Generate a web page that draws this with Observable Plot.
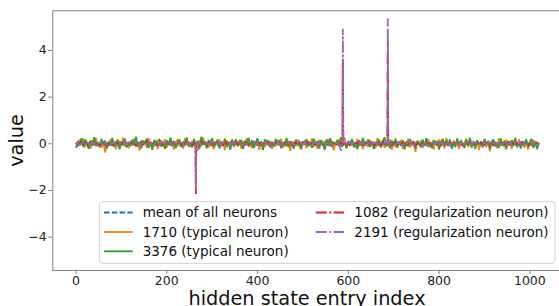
<!DOCTYPE html>
<html>
<head>
<meta charset="utf-8">
<script src="https://cdn.jsdelivr.net/npm/d3@7"></script>
<script src="https://cdn.jsdelivr.net/npm/@observablehq/plot@0.6"></script>
<style>
  html, body { margin: 0; padding: 0; background: #fff; overflow: hidden; }
  #chart svg { overflow: hidden; }
</style>
</head>
<body>
<div id="chart"></div>
<script>
// ---- data ----
const seriesNames = ["mean of all neurons", "1710 (typical neuron)", "3376 (typical neuron)", "1082 (regularization neuron)", "2191 (regularization neuron)"];
const xTicks = [0, 200, 400, 600, 800, 1000];
const yTicks = [-4, -2, 0, 2, 4];
const meanStep = 16;
const neuronStep = 4;

const meanVals = [0.01,-0.01,0.02,0.00,-0.02,0.01,-0.01,0.02,0.00,-0.01,0.01,-0.02,0.02,0.00,-0.01,0.01,
-0.02,0.01,0.00,0.02,-0.01,0.01,-0.02,0.00,0.02,-0.01,0.01,0.00,-0.02,0.01,-0.01,0.02,
0.00,-0.01,0.02,-0.02,0.01,0.00,-0.01,0.01,0.02,-0.02,0.00,0.01,-0.01,0.02,-0.02,0.01,
0.00,-0.01,0.01,-0.02,0.02,0.00,-0.01,0.01,-0.02,0.01,0.00,0.02,-0.01,0.01,-0.01,0.00];

const n1710 = [0.05,-0.12,0.18,-0.03,0.22,-0.15,0.08,0.01,-0.21,0.14,-0.06,0.25,-0.09,0.03,-0.17,0.11,
-0.38,0.06,-0.11,0.19,-0.02,0.09,-0.24,0.16,0.04,-0.08,0.27,-0.13,0.02,-0.19,0.12,-0.05,
0.21,-0.14,0.07,-0.29,0.15,-0.01,0.10,-0.18,0.24,-0.07,0.03,-0.12,0.17,-0.22,0.06,0.13,
-0.09,0.20,-0.16,0.04,-0.06,0.11,-0.25,0.08,0.18,-0.10,0.01,-0.20,0.23,-0.04,0.09,-0.14,
0.12,-0.08,0.05,-0.31,0.16,-0.11,0.26,-0.02,0.07,-0.17,0.14,-0.06,-0.23,0.10,-0.01,0.19,
-0.12,0.08,-0.27,0.15,0.02,-0.09,0.21,-0.15,0.06,-0.04,0.17,-0.20,0.11,-0.07,0.24,-0.13,
0.03,-0.18,0.13,-0.05,0.20,-0.26,0.09,0.00,-0.14,0.18,-0.08,0.12,-0.21,0.05,-0.10,0.16,
-0.03,0.22,-0.17,0.07,-0.12,0.14,-0.30,0.10,0.04,-0.09,0.19,-0.15,0.08,-0.02,0.15,-0.19,
0.11,-0.06,0.23,-0.13,0.02,-0.22,0.17,-0.04,0.09,-0.16,0.06,0.20,-0.11,0.13,-0.28,0.04,
-0.07,0.18,-0.12,0.10,0.26,-0.19,0.05,-0.08,0.14,-0.03,-0.16,0.21,-0.10,0.07,-0.23,0.12,
0.01,-0.14,0.16,-0.06,0.09,-0.20,0.24,-0.11,0.03,0.13,-0.17,0.06,-0.05,0.19,-0.25,0.08,
-0.13,0.11,-0.02,0.17,-0.21,0.07,-0.09,0.22,-0.15,0.04,0.12,-0.35,0.10,-0.06,0.15,-0.18,
0.06,-0.10,0.20,-0.14,0.03,-0.24,0.13,-0.01,0.18,-0.12,0.08,-0.19,0.25,-0.07,0.02,-0.16,
0.14,-0.04,0.09,-0.22,0.17,-0.11,0.05,0.21,-0.13,0.00,-0.18,0.12,-0.08,0.16,-0.26,0.07,
-0.05,0.19,-0.15,0.10,-0.32,0.13,-0.03,0.08,-0.20,0.24,-0.09,0.04,-0.14,0.18,-0.06,0.11,
-0.21,0.15,0.02,-0.12,0.20,-0.07,0.09,-0.17,0.13,-0.24,0.06,-0.02,0.16,-0.10,0.08,-0.04];

const n3376 = [-0.18,0.12,-0.05,0.24,-0.14,0.19,0.03,-0.22,0.15,-0.09,0.28,-0.11,0.07,-0.16,0.21,-0.02,
0.13,-0.20,0.09,-0.07,0.25,-0.13,0.04,0.17,-0.24,0.10,-0.03,0.22,-0.15,0.06,-0.10,0.18,
-0.06,0.31,-0.12,0.08,-0.19,0.14,-0.01,0.23,-0.17,0.05,-0.26,0.16,-0.08,0.11,0.20,-0.13,
0.07,-0.21,0.15,-0.04,0.26,-0.10,0.12,-0.18,0.02,0.19,-0.14,0.09,-0.06,0.27,-0.12,0.04,
-0.16,0.21,-0.07,0.13,-0.23,0.30,-0.02,0.10,-0.19,0.16,-0.09,0.24,-0.13,0.05,0.18,-0.20,
0.09,-0.03,0.22,-0.15,0.07,-0.25,0.14,-0.06,0.20,-0.11,0.03,0.17,-0.22,0.12,-0.04,0.26,
-0.10,0.15,-0.18,0.06,0.23,-0.08,0.11,-0.27,0.19,-0.02,0.14,-0.16,0.08,-0.12,0.21,-0.05,
0.16,-0.19,0.04,-0.09,0.25,-0.14,0.10,0.02,-0.21,0.18,-0.07,0.13,-0.24,0.09,-0.01,0.20,
-0.11,0.07,-0.17,0.22,-0.05,0.12,-0.20,0.15,0.01,-0.26,0.19,-0.08,0.24,-0.13,0.06,-0.02,
0.17,-0.12,0.28,-0.09,0.05,-0.18,0.13,-0.04,0.21,-0.15,0.08,-0.23,0.16,-0.07,0.25,-0.10,
0.03,0.19,-0.14,0.10,-0.22,0.06,-0.08,0.18,-0.16,0.12,0.27,-0.11,0.04,-0.19,0.14,-0.06,
0.22,-0.17,0.09,-0.03,0.15,-0.24,0.11,-0.12,0.20,-0.05,0.07,-0.20,0.13,0.01,-0.15,0.18,
-0.08,0.24,-0.13,0.05,-0.19,0.16,-0.02,0.11,-0.25,0.08,0.21,-0.10,0.14,-0.06,0.19,-0.21,
0.06,-0.14,0.23,-0.09,0.12,0.02,-0.18,0.17,-0.07,0.26,-0.13,0.09,-0.22,0.15,-0.03,0.10,
-0.16,0.20,-0.05,0.13,-0.21,0.07,0.18,-0.12,0.04,-0.17,0.22,-0.09,0.14,-0.24,0.11,-0.01,
0.15,-0.10,0.25,-0.15,0.06,-0.20,0.12,-0.06,0.19,-0.13,0.08,0.21,-0.18,0.10,-0.22,0.05];

// regularization neurons: background values every 4 entries ...
const n1082 = [0.04,-0.06,0.02,0.08,-0.03,0.05,-0.09,0.01,0.06,-0.04,0.10,-0.02,0.03,-0.07,0.05,0.00,
-0.05,0.07,-0.01,0.04,-0.08,0.02,0.06,-0.03,0.09,-0.06,0.01,0.05,-0.04,0.08,-0.02,0.03,
0.06,-0.07,0.02,-0.01,0.09,-0.05,0.04,0.11,-0.03,0.07,-0.06,0.02,0.05,-0.09,0.03,0.01,
-0.04,0.06,-0.02,0.08,-0.07,0.03,0.05,-0.01,0.07,-0.05,0.02,-0.08,0.04,0.06,-0.03,0.09,
-0.06,0.02,0.01,0.05,-0.04,0.07,-0.02,0.04,-0.08,0.06,0.01,-0.05,0.08,-0.03,0.05,-0.01,
0.03,-0.07,0.06,0.02,-0.04,0.09,-0.06,0.04,-0.02,0.07,-0.09,0.05,0.01,-0.03,0.08,-0.05,
0.02,0.06,-0.04,0.03,-0.07,0.05,-0.01,0.08,-0.06,0.04,0.02,-0.08,0.06,-0.02,0.03,0.07,
-0.05,0.04,-0.03,0.09,-0.06,0.01,0.05,-0.07,0.03,0.06,-0.04,0.02,-0.09,0.07,-0.01,0.04,
0.06,-0.02,0.08,-0.05,0.03,-0.07,0.04,0.01,-0.06,0.09,-0.03,0.05,-0.08,0.02,0.06,-0.04,
0.03,-0.06,0.05,0.02,0.07,-0.03,0.04,-0.08,0.06,0.01,-0.05,0.08,-0.02,0.04,-0.07,0.03,
0.05,-0.04,0.07,-0.01,0.03,-0.08,0.06,0.02,-0.05,0.09,-0.03,0.04,0.01,0.06,-0.06,0.02,
0.07,-0.02,0.04,-0.07,0.05,0.01,-0.04,0.08,-0.06,0.03,0.06,-0.09,0.02,0.05,-0.03,0.07,
-0.01,0.04,-0.06,0.08,-0.03,0.05,0.02,-0.07,0.06,-0.04,0.09,-0.02,0.03,-0.08,0.05,0.01,
-0.05,0.07,0.02,-0.04,0.06,-0.09,0.04,0.01,-0.06,0.08,-0.03,0.05,-0.02,0.07,-0.07,0.03,
0.05,-0.06,0.03,0.09,-0.04,0.02,-0.08,0.06,-0.01,0.04,0.07,-0.05,0.02,-0.03,0.08,-0.06,
0.04,0.01,-0.07,0.05,-0.02,0.08,-0.05,0.03,0.06,-0.04,0.02,-0.08,0.07,-0.01,0.04,-0.03];

const n2191 = [-0.03,0.05,-0.07,0.02,0.06,-0.04,0.08,-0.01,-0.05,0.07,-0.02,0.04,-0.08,0.03,0.06,-0.06,
0.02,-0.04,0.09,-0.07,0.03,0.05,-0.02,-0.08,0.06,0.01,-0.05,0.07,-0.03,0.04,0.08,-0.06,
-0.02,0.06,-0.05,0.03,-0.09,0.07,0.01,-0.04,0.05,-0.07,0.08,-0.01,0.04,0.02,-0.06,0.09,
0.05,-0.08,0.03,0.06,-0.02,-0.05,0.07,0.02,-0.06,0.04,0.08,-0.03,-0.07,0.01,0.05,-0.04,
0.07,-0.03,-0.02,-0.06,0.04,-0.02,0.06,-0.07,0.03,0.01,-0.05,0.08,-0.04,0.06,-0.08,0.02,
-0.04,0.06,-0.01,-0.07,0.05,0.03,-0.06,0.09,-0.03,0.02,0.07,-0.05,0.04,-0.08,0.01,0.06,
-0.06,0.03,0.07,-0.04,0.02,-0.08,0.05,-0.02,0.06,0.01,-0.05,0.04,-0.09,0.07,0.03,-0.03,
0.04,-0.07,0.06,0.01,-0.04,0.08,-0.02,0.05,-0.06,-0.01,0.07,-0.03,0.02,-0.05,0.09,-0.04,
-0.02,0.05,-0.06,0.03,0.07,-0.04,0.01,-0.08,0.06,-0.03,0.04,0.02,-0.07,0.05,-0.01,0.08,
0.01,-0.05,-0.30,0.03,0.04,-0.06,0.08,0.02,-0.04,0.06,-0.07,0.03,0.05,-0.02,0.07,-0.05,
-0.03,0.06,-0.08,0.04,0.01,0.07,-0.05,-0.02,0.05,-0.06,0.03,0.08,0.02,-0.04,0.06,-0.01,
-0.06,0.04,0.07,-0.03,-0.08,0.05,0.02,-0.05,0.06,-0.01,-0.07,0.04,0.08,-0.04,0.02,-0.06,
0.05,-0.02,-0.07,0.06,0.03,-0.05,0.08,-0.03,-0.01,0.07,-0.06,0.04,-0.02,0.05,-0.08,0.03,
0.07,-0.04,0.02,-0.06,0.05,0.01,-0.07,0.06,-0.02,0.04,-0.05,0.08,0.03,-0.06,0.02,-0.03,
-0.01,0.06,-0.05,0.03,0.08,-0.07,0.04,-0.02,0.05,-0.06,0.01,0.07,-0.04,0.03,-0.05,0.06,
-0.07,0.02,0.05,-0.04,0.06,-0.01,-0.06,0.08,-0.03,0.04,0.02,-0.05,0.07,-0.02,-0.06,0.03];

// ... and the spike entries (index, value) with their direct neighbours
const spikes1082 = [[263, 0.03], [264, -2.15], [265, -0.04], [587, 0.05], [588, 3.60], [589, -0.03], [686, 0.04], [687, 4.40], [688, -0.02]];
const spikes2191 = [[263, -0.05], [264, -1.95], [265, 0.04], [587, -0.06], [588, 4.93], [589, 0.02], [686, -0.03], [687, 5.37], [688, 0.05]];

// ---- build table ----
const toRows = (vals, step, name) => vals.map((v, i) => ({index: i * step, value: v, name}));
const withSpikes = (rows, spikes, name) => {
  const idx = new Set(spikes.map(d => d[0]));
  return rows.filter(r => !idx.has(r.index))
    .concat(spikes.map(([index, value]) => ({index, value, name})))
    .sort((a, b) => a.index - b.index);
};
const seriesData = [
  toRows(meanVals, meanStep, seriesNames[0]),
  toRows(n1710, neuronStep, seriesNames[1]),
  toRows(n3376, neuronStep, seriesNames[2]),
  withSpikes(toRows(n1082, neuronStep, seriesNames[3]), spikes1082, seriesNames[3]),
  withSpikes(toRows(n2191, neuronStep, seriesNames[4]), spikes2191, seriesNames[4])
];

// styles
const colors = ["#1f77b4", "#ff7f0e", "#2ca02c", "#d62728", "#9467bd"];
const dashes = ["5.5,2.3", null, null, "11,2.6,1.8,2.6", "11,2.6,1.8,2.6"];
const LW = 1.8;
const FONT = "DejaVu Sans, sans-serif";
const spine = "#808080";

const marks = [
  Plot.frame({stroke: spine, strokeWidth: 1}),
  Plot.axisX({ticks: xTicks, tickSize: 4, tickPadding: 2, stroke: spine, fontSize: 12.5, color: "#222", label: null, tickFormat: d3.format("d")}),
  Plot.axisY({ticks: yTicks, tickSize: 4, tickPadding: 2, stroke: spine, fontSize: 12.5, color: "#222", label: null, tickFormat: d3.format("d")})
];
seriesData.forEach((rows, k) => {
  marks.push(Plot.line(rows, {x: "index", y: "value", stroke: colors[k], strokeWidth: LW,
    strokeDasharray: dashes[k] || undefined, strokeLinejoin: "miter", strokeLinecap: "butt"}));
});

const chart = Plot.plot({
  width: 559,
  height: 306,
  marginTop: 10.3,
  marginBottom: 36,
  marginLeft: 52.3,
  marginRight: -4,
  style: {fontFamily: FONT, background: "#fff", overflow: "hidden"},
  x: {domain: [-51.15, 1074.15]},
  y: {domain: [-5.43, 5.70]},
  marks
});
document.getElementById("chart").appendChild(chart);

// ---- axis labels & legend ----
const svg = d3.select(chart);
svg.append("text").text("hidden state entry index")
  .attr("x", 307).attr("y", 304.5).attr("text-anchor", "middle")
  .attr("font-family", FONT).attr("font-size", 19.3).attr("fill", "#111");
svg.append("text").text("value")
  .attr("transform", "translate(22.5,140.5) rotate(-90)").attr("text-anchor", "middle")
  .attr("font-family", FONT).attr("font-size", 19.3).attr("fill", "#111");

const lg = svg.append("g").attr("font-family", FONT).attr("font-size", 13.5).attr("text-anchor", "start");
lg.append("rect").attr("x", 99.3).attr("y", 201.7).attr("width", 455.7).attr("height", 61.6)
  .attr("rx", 3).attr("fill", "#fff").attr("fill-opacity", 0.8).attr("stroke", "#d0d0d0").attr("stroke-width", 1);
const slots = [[0, 0], [0, 1], [0, 2], [1, 0], [1, 1]];
const colX = [[104, 132.7, 142.7], [315.7, 344, 354.3]];
const rowY = [212.5, 232, 251.3];
seriesNames.forEach((name, k) => {
  const [c, r] = slots[k];
  const [x1, x2, tx] = colX[c];
  const y = rowY[r];
  const ln = lg.append("line").attr("x1", x1).attr("x2", x2).attr("y1", y).attr("y2", y)
    .attr("stroke", colors[k]).attr("stroke-width", LW);
  if (dashes[k]) ln.attr("stroke-dasharray", dashes[k]);
  lg.append("text").text(name).attr("x", tx).attr("y", y).attr("dy", "0.35em")
    .attr("text-anchor", "start").attr("fill", "#111");
});
</script>
</body>
</html>
